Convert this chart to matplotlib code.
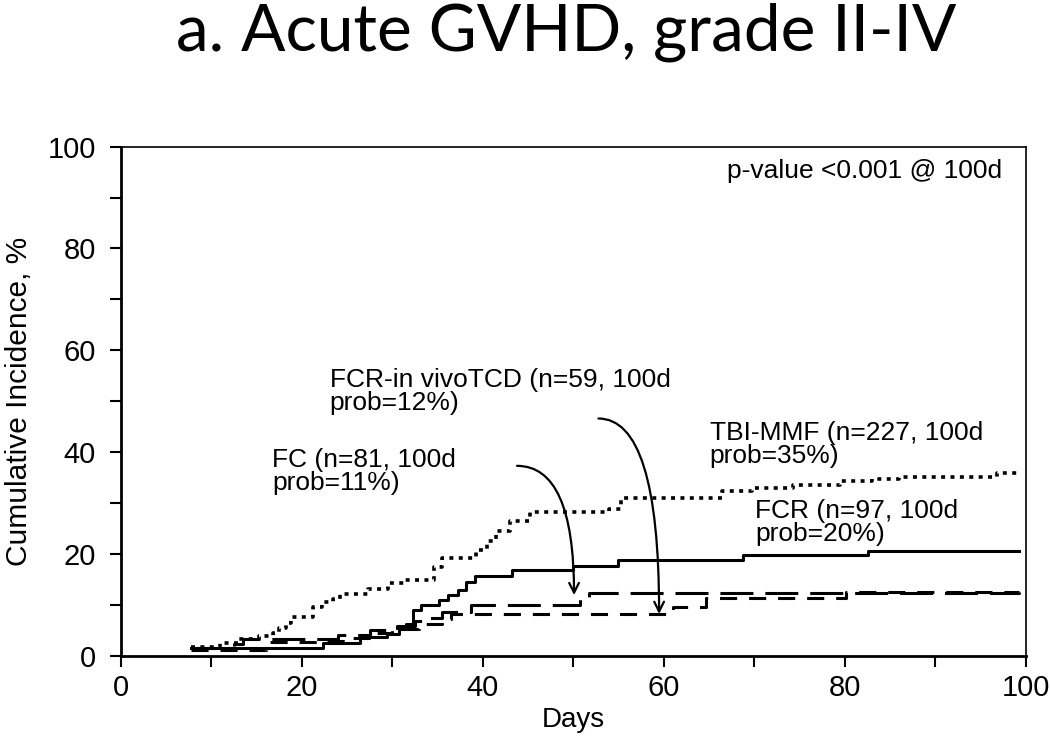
import matplotlib
matplotlib.use("Agg")
import matplotlib.pyplot as plt
from matplotlib.ticker import MultipleLocator

plt.rcParams['font.family'] = ['Liberation Sans', 'DejaVu Sans']

# ---- data ----
tbi_days = [7.8, 11.0, 13.0, 15.3, 16.8, 17.5, 18.3, 18.8, 21.2, 22.2, 23.5, 24.2, 27.3, 29.5,
            31.4, 34.6, 35.5, 39.3, 40.5, 41.5, 43.0, 45.2, 54.0, 55.3, 66.5, 69.8, 74.3,
            79.5, 83.0, 86.0, 96.9, 99.3]
tbi_pct = [1.8, 2.5, 3.2, 3.8, 4.5, 5.5, 6.5, 7.6, 9.5, 10.6, 11.2, 12.2, 13.2, 14.2,
           14.8, 17.5, 19.2, 20.8, 22.5, 24.4, 26.4, 28.3, 28.9, 30.9, 32.4, 33.0, 33.5,
           34.3, 34.8, 35.2, 35.8, 35.8]

fcr_days = [7.8, 22.3, 26.4, 29.4, 30.8, 31.5, 32.3, 33.2, 35.2, 36.2, 37.3, 38.2, 39.1,
            43.2, 50.0, 55.0, 68.8, 82.6, 99.3]
fcr_pct = [1.5, 2.4, 3.6, 4.3, 5.3, 6.3, 8.9, 9.9, 10.9, 11.9, 12.9, 14.5, 15.7,
           16.8, 17.7, 18.8, 19.7, 20.6, 20.6]

fc_days = [7.8, 12.5, 13.5, 24.0, 27.5, 30.5, 32.5, 34.0, 35.5, 38.7, 50.8, 51.8, 99.3]
fc_pct = [1.5, 2.3, 3.2, 4.0, 5.0, 5.8, 6.8, 7.5, 8.5, 10.0, 11.2, 12.3, 12.5]

tcd_days = [7.8, 16.0, 22.4, 25.0, 28.0, 30.0, 33.0, 35.5, 36.5, 61.0, 64.7, 80.2, 99.3]
tcd_pct = [1.2, 2.6, 2.9, 3.5, 4.5, 5.2, 6.3, 7.3, 8.1, 9.6, 11.4, 12.5, 12.5]

title = "a. Acute GVHD, grade II-IV"
xlabel = "Days"
ylabel = "Cumulative Incidence, %"
xticks = [0, 20, 40, 60, 80, 100]
yticks = [0, 20, 40, 60, 80, 100]

# ---- figure ----
fig = plt.figure(figsize=(10.5, 7.43), dpi=100)
ax = fig.add_axes([0.115, 0.1175, 0.8617, 0.6851])

lw = 2.2
ax.step(tbi_days, tbi_pct, where='post', color='black', lw=2.6,
        linestyle=(0, (1.1, 1.5)))
ax.step(fcr_days, fcr_pct, where='post', color='black', lw=lw, linestyle='-')
ax.step(fc_days, fc_pct, where='post', color='black', lw=lw,
        linestyle=(0, (10.8, 3.9)))
ax.step(tcd_days, tcd_pct, where='post', color='black', lw=lw,
        linestyle=(0, (5.6, 3.9)))

ax.set_xlim(0, 100)
ax.set_ylim(0, 100)
ax.set_xticks(xticks)
ax.set_yticks(yticks)
ax.xaxis.set_minor_locator(MultipleLocator(10))
ax.yaxis.set_minor_locator(MultipleLocator(10))
ax.tick_params(which='both', direction='out', length=8, width=1.5, labelsize=21,
               top=False, right=False)
ax.tick_params(axis='y', which='both', pad=10)
ax.tick_params(axis='x', which='both', pad=5)
for s in ['left', 'bottom']:
    ax.spines[s].set_linewidth(2.0)
for s in ['top', 'right']:
    ax.spines[s].set_linewidth(1.2)

ax.set_xlabel(xlabel, fontsize=20, labelpad=3.5)
ax.set_ylabel(ylabel, fontsize=21.5, labelpad=10)

fs = 19
ax.text(16.7, 40.8, "FC (n=81, 100d\nprob=11%)", fontsize=fs, ha='left', va='top', linespacing=0.95)
ax.text(23.1, 56.5, "FCR-in vivoTCD (n=59, 100d\nprob=12%)", fontsize=fs, ha='left', va='top', linespacing=0.95)
ax.text(65.1, 46.1, "TBI-MMF (n=227, 100d\nprob=35%)", fontsize=fs, ha='left', va='top', linespacing=0.95)
ax.text(70.1, 30.8, "FCR (n=97, 100d\nprob=20%)", fontsize=fs, ha='left', va='top', linespacing=0.95)
ax.text(67.0, 97.5, "p-value <0.001 @ 100d", fontsize=fs, ha='left', va='top')

arrow_kw = dict(arrowstyle='->,head_length=0.7,head_width=0.35', color='black', lw=1.6,
                shrinkA=0, shrinkB=0, connectionstyle='angle3,angleA=0,angleB=90')
ax.annotate("", xy=(50.1, 11.9), xytext=(43.8, 37.3), arrowprops=arrow_kw)
ax.annotate("", xy=(59.5, 8.2), xytext=(52.8, 46.6), arrowprops=arrow_kw)

fig.text(0.5395, 1 - 50 / 743, title, fontsize=47.3, family=['Lato', 'DejaVu Sans'],
         ha='center', va='baseline')

fig.savefig("out.png", dpi=100)
